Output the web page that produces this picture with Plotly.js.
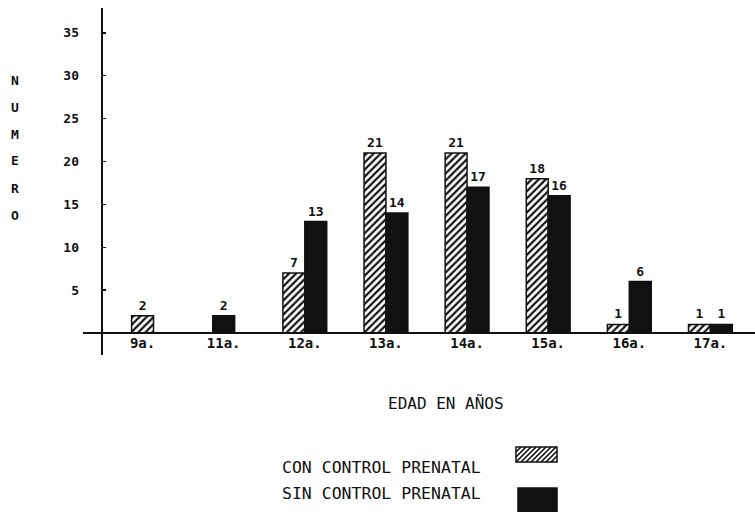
<!DOCTYPE html>
<html>
<head>
<meta charset="utf-8">
<script src="https://cdn.plot.ly/plotly-3.0.1.min.js"></script>
<style>html,body{margin:0;padding:0;background:#fff;}#chart{width:755px;height:512px;}</style>
</head>
<body>
<div id="chart"></div>
<script>
// ---- data ----
var categories = ["9a.", "11a.", "12a.", "13a.", "14a.", "15a.", "16a.", "17a."];
var conControl = [2, null, 7, 21, 21, 18, 1, 1];
var sinControl = [null, 2, 13, 14, 17, 16, 6, 1];
var yTicks = [5, 10, 15, 20, 25, 30, 35];
var seriesNames = ["CON CONTROL PRENATAL", "SIN CONTROL PRENATAL"];
var xTitle = "EDAD EN AÑOS";
var yTitle = "NUMERO";

// ---- layout geometry (pixels) ----
var W = 755, H = 512;
var mL = 102, mR = 4, mT = 8, mB = 179;
var pw = W - mL - mR, ph = H - mT - mB;
function px2x(p) { return (p - mL) / pw; }
function px2y(p) { return (H - mB - p) / ph; }

var FONT = "DejaVu Sans Mono, Liberation Mono, monospace";
var bw = 0.27;

function offsets(mine, other, first) {
  return mine.map(function (v, i) {
    if (other[i] == null) return -bw / 2;
    return first ? -bw : 0;
  });
}
function labels(arr) { return arr.map(function (v) { return v == null ? "" : String(v); }); }

var traceCon = {
  type: "bar", x: categories, y: conControl, name: seriesNames[0],
  width: bw, offset: offsets(conControl, sinControl, true),
  text: labels(conControl), textposition: "outside", cliponaxis: false,
  textfont: { family: FONT, size: 13, color: "#111", weight: "bold" },
  marker: { color: "white", line: { color: "#111", width: 1.5 },
    pattern: { shape: "/", size: 5, solidity: 0.45, fgcolor: "#111", bgcolor: "white", fillmode: "replace" } },
  showlegend: false, hoverinfo: "skip"
};
var traceSin = {
  type: "bar", x: categories, y: sinControl, name: seriesNames[1],
  width: bw, offset: offsets(sinControl, conControl, false),
  text: labels(sinControl), textposition: "outside", cliponaxis: false,
  textfont: { family: FONT, size: 13, color: "#111", weight: "bold" },
  marker: { color: "#111", line: { color: "#111", width: 1.5 } },
  showlegend: false, hoverinfo: "skip"
};

var shapes = [];
// axes lines
shapes.push({ type: "line", xref: "paper", yref: "paper", x0: px2x(83), x1: px2x(755), y0: 0, y1: 0, line: { color: "#111", width: 2 } });
shapes.push({ type: "line", xref: "paper", yref: "paper", x0: 0, x1: 0, y0: px2y(355), y1: 1, line: { color: "#111", width: 2 } });

// legend swatches
function rectShape(L, T, R, B, fill) {
  return { type: "rect", xref: "paper", yref: "paper", x0: px2x(L), x1: px2x(R), y0: px2y(B), y1: px2y(T),
    fillcolor: fill, line: { color: "#111", width: 1.5 } };
}
function hatchPath(L, T, R, B, s) {
  var d = "";
  for (var c = L + T; c <= R + B; c += s) {
    var xa = Math.max(L, c - B), xb = Math.min(R, c - T);
    if (xb <= xa) continue;
    d += "M" + px2x(xa) + "," + px2y(c - xa) + "L" + px2x(xb) + "," + px2y(c - xb);
  }
  return { type: "path", xref: "paper", yref: "paper", path: d, line: { color: "#111", width: 1.6 } };
}
shapes.push(rectShape(516, 447, 557, 462, "white"));
shapes.push(hatchPath(516, 447, 557, 462, 5));
shapes.push(rectShape(518, 488, 557, 512, "#111"));

var annotations = [];
annotations.push({ xref: "paper", yref: "paper", x: px2x(446), y: px2y(403), text: xTitle, showarrow: false,
  font: { family: FONT, size: 16, color: "#111" }, xanchor: "center", yanchor: "middle" });
annotations.push({ xref: "paper", yref: "paper", x: px2x(483), y: px2y(467), text: seriesNames[0], showarrow: false,
  font: { family: FONT, size: 16.5, color: "#111" }, xanchor: "right", yanchor: "middle" });
annotations.push({ xref: "paper", yref: "paper", x: px2x(483), y: px2y(493), text: seriesNames[1], showarrow: false,
  font: { family: FONT, size: 16.5, color: "#111" }, xanchor: "right", yanchor: "middle" });
yTitle.split("").forEach(function (ch, i) {
  annotations.push({ xref: "paper", yref: "paper", x: px2x(15), y: px2y(80 + 27 * i), text: ch, showarrow: false,
    font: { family: FONT, size: 13, color: "#111", weight: "bold" }, xanchor: "center", yanchor: "middle" });
});

var layout = {
  width: W, height: H,
  margin: { l: mL, r: mR, t: mT, b: mB, pad: 0 },
  paper_bgcolor: "white", plot_bgcolor: "white",
  barmode: "overlay",
  showlegend: false,
  xaxis: { type: "category", range: [-0.5, 7.5], showgrid: false, zeroline: false, showline: false,
    ticks: "", tickfont: { family: FONT, size: 14, color: "#111", weight: "bold" }, fixedrange: true },
  yaxis: { range: [0, 37.9], showgrid: false, zeroline: false, showline: false,
    tickvals: yTicks, ticktext: yTicks.map(String), ticks: "inside", ticklen: 4, tickwidth: 1.5, tickcolor: "#111",
    ticklabelstandoff: 22,
    tickfont: { family: FONT, size: 13, color: "#111", weight: "bold" }, fixedrange: true },
  shapes: shapes,
  annotations: annotations
};

Plotly.newPlot("chart", [traceCon, traceSin], layout, { displayModeBar: false, staticPlot: true });
</script>
</body>
</html>
